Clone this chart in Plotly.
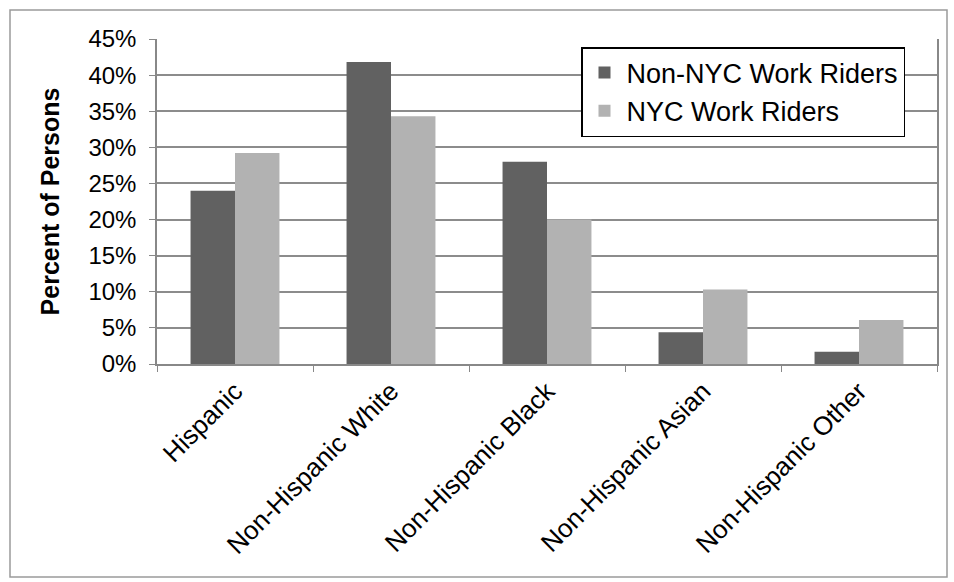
import plotly.graph_objects as go

categories = ["Hispanic", "Non-Hispanic White", "Non-Hispanic Black", "Non-Hispanic Asian", "Non-Hispanic Other"]
non_nyc = [24.0, 41.8, 28.0, 4.4, 1.7]
nyc = [29.2, 34.3, 20.0, 10.3, 6.1]
y_ticks = [0, 5, 10, 15, 20, 25, 30, 35, 40, 45]
y_tick_labels = [f"{v}%" for v in y_ticks]

FONT = "Liberation Sans, Arial, sans-serif"

fig = go.Figure()
fig.add_trace(go.Bar(name="Non-NYC Work Riders", x=categories, y=non_nyc,
                     marker=dict(color="#616161", line=dict(width=0))))
fig.add_trace(go.Bar(name="NYC Work Riders", x=categories, y=nyc,
                     marker=dict(color="#b2b2b2", line=dict(width=0))))

L, R, T, B = 157, 17, 39, 218
W, H = 954, 582
pw = W - L - R
ph = H - T - B

fig.update_layout(
    width=W, height=H,
    margin=dict(l=L, r=R, t=T, b=B, autoexpand=False),
    paper_bgcolor="white", plot_bgcolor="white",
    barmode="group", bargap=0.43, bargroupgap=0,
    font=dict(family=FONT, color="black", size=24),
    showlegend=True,
    legend=dict(
        x=(581 - L) / pw, y=(H - B - 47) / ph, xanchor="left", yanchor="top",
        bgcolor="white", bordercolor="black", borderwidth=1.5,
        font=dict(family=FONT, size=27, color="black"),
        itemwidth=34, tracegroupgap=14, traceorder="grouped",
    ),
    xaxis=dict(
        tickangle=-45, tickson="boundaries", ticks="outside", ticklen=6,
        tickcolor="#888888", showline=True, linecolor="#888888", linewidth=1.5,
        tickfont=dict(family=FONT, size=26, color="black"),
        showgrid=False, automargin=False,
    ),
    yaxis=dict(
        range=[0, 45], tickvals=y_ticks, ticktext=y_tick_labels,
        ticks="outside", ticklen=6, tickcolor="#888888", ticklabelstandoff=8,
        showline=True, linecolor="#888888", linewidth=1.5, mirror=True,
        showgrid=True, gridcolor="#8c8c8c", gridwidth=1.5,
        zeroline=False, automargin=False,
        tickfont=dict(family=FONT, size=24, color="black"),
        title=dict(text="<b>Percent of Persons</b>", standoff=22,
                   font=dict(family=FONT, size=25, color="black")),
    ),
)

# outer chart border
fig.add_shape(type="rect", xref="paper", yref="paper",
              x0=(10 - L) / pw, x1=(947 - L) / pw,
              y0=(H - B - 577) / ph, y1=(H - B - 10) / ph,
              line=dict(color="#9a9a9a", width=1.5), layer="below")

fig.write_html("out.html", config={"displayModeBar": False},
               post_script="document.body.style.margin='0';")
